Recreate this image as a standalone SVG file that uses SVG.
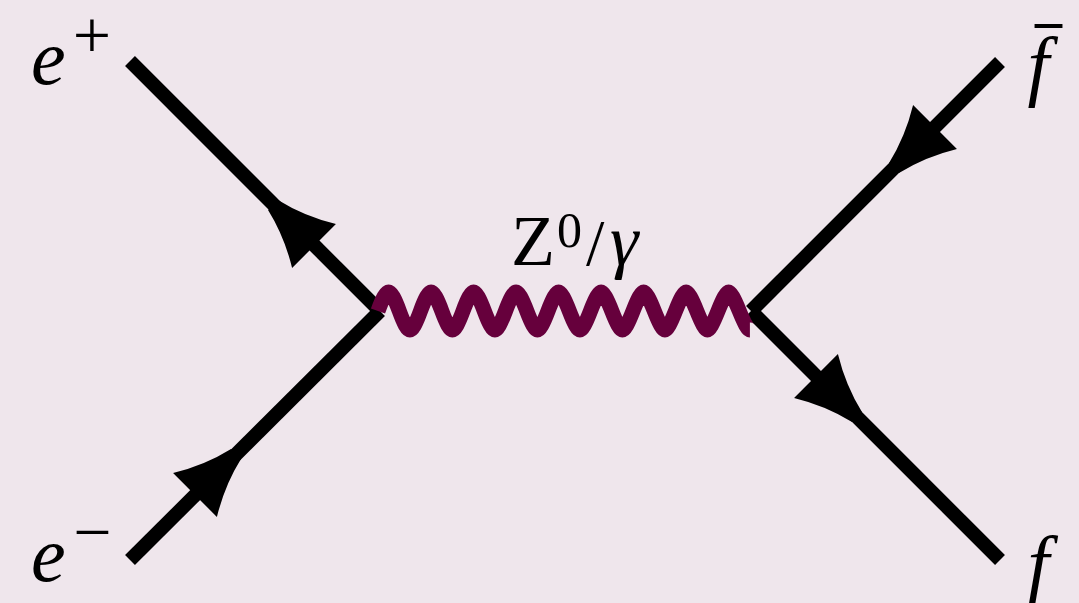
<svg xmlns="http://www.w3.org/2000/svg" width="1079" height="603" viewBox="0 0 1079 603">
<defs>
<style>
.fermion{stroke:#000;stroke-width:14;fill:none;stroke-linecap:butt}
.boson{stroke:#66003c;stroke-width:15;fill:none;stroke-linecap:butt;stroke-linejoin:round}
</style>
<path id="arrowhead" d="M0,-7 Q-30,-14 -58,-31 L-58,31 Q-30,14 0,7 Z" fill="#000"/>
</defs>
<rect x="0" y="0" width="1079" height="603" fill="#efe6ec"/>
<g id="connectors">
<line class="fermion" x1="130" y1="61" x2="380" y2="311"/>
<line class="fermion" x1="130" y1="560" x2="380" y2="311"/>
<line class="fermion" x1="1000" y1="62" x2="751" y2="311"/>
<line class="fermion" x1="1000" y1="560" x2="751" y2="311"/>
<use href="#arrowhead" transform="translate(273,205) rotate(225)"/>
<use href="#arrowhead" transform="translate(236,454) rotate(-45)"/>
<use href="#arrowhead" transform="translate(894,168) rotate(135)"/>
<use href="#arrowhead" transform="translate(857,417) rotate(45)"/>
<path class="boson" d="M378,311 Q384.8,292 388.6,292 T399.3,311 T409.9,330 T420.5,311 T431.1,292 T441.8,311 T452.4,330 T463,311 T473.6,292 T484.3,311 T494.9,330 T505.5,311 T516.1,292 T526.8,311 T537.4,330 T548,311 T558.6,292 T569.3,311 T579.9,330 T590.5,311 T601.1,292 T611.8,311 T622.4,330 T633,311 T643.6,292 T654.3,311 T664.9,330 T675.5,311 T686.1,292 T696.8,311 T707.4,330 T718,311 T728.6,292 T739.3,311 T749.9,330"/>
</g>
<g id="node-eplus">
<text x="31" y="84" font-size="78" font-family="Liberation Serif" font-style="italic">e</text>
<text x="92" y="58" font-size="68" font-family="Liberation Serif" text-anchor="middle">+</text>
</g>
<g id="node-eminus">
<text x="31" y="581" font-size="78" font-family="Liberation Serif" font-style="italic">e</text>
<text x="92.5" y="555" font-size="68" font-family="Liberation Serif" text-anchor="middle">−</text>
</g>
<g id="node-fbar">
<text x="1027.5" y="91" font-size="78" font-family="Liberation Serif" font-style="italic">f</text>
<text x="1035" y="66" font-size="54" font-weight="bold" font-family="Liberation Serif">¯</text>
</g>
<g id="node-f">
<text x="1027.5" y="590" font-size="78" font-family="Liberation Serif" font-style="italic">f</text>
</g>
<g id="node-boson-label">
<text x="511" y="265" font-size="72" font-family="Liberation Serif">Z</text>
<text x="557" y="247" font-size="50" font-family="Liberation Serif">0</text>
<text x="586" y="265" font-size="66" font-family="Liberation Serif">/</text>
<text x="610" y="265" font-size="72" font-family="Liberation Serif" font-style="italic">γ</text>
</g>
</svg>
